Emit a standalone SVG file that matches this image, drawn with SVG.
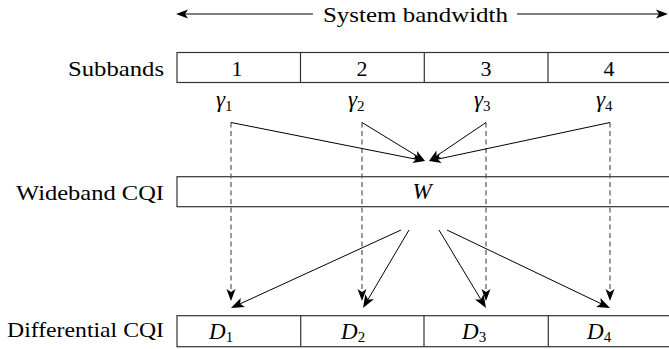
<svg xmlns="http://www.w3.org/2000/svg" width="669" height="349" viewBox="0 0 669 349">
<defs>
<style>
text{font-family:"Liberation Serif","DejaVu Serif",serif;fill:#000}
.t{font-size:22px}
.m{font-size:23px;font-style:italic}
.s{font-size:15px;font-style:normal}
.box{fill:#fff;stroke:#333;stroke-width:1.2}
.div{stroke:#333;stroke-width:1.2}
.dash{stroke:#555;stroke-width:1.2;stroke-dasharray:5 3.5;fill:none}
.sol{stroke:#000;stroke-width:1;fill:none}
.hd{fill:#000;stroke:none}
</style>
</defs>
<g id="bandwidth">
<text x="415.5" y="21.5" class="t" text-anchor="middle" textLength="185" lengthAdjust="spacingAndGlyphs">System bandwidth</text>
</g>
<g id="subbands">
<text x="164" y="76" class="t" text-anchor="end" textLength="96" lengthAdjust="spacingAndGlyphs">Subbands</text>
<rect x="177" y="52.5" width="494" height="30" class="box"/>
<line x1="300.5" y1="52.5" x2="300.5" y2="82.5" class="div"/>
<line x1="424.3" y1="52.5" x2="424.3" y2="82.5" class="div"/>
<line x1="548" y1="52.5" x2="548" y2="82.5" class="div"/>
<text x="237" y="76" class="t" text-anchor="middle">1</text>
<text x="362" y="76" class="t" text-anchor="middle">2</text>
<text x="486" y="76" class="t" text-anchor="middle">3</text>
<text x="609" y="76" class="t" text-anchor="middle">4</text>
</g>
<g id="gammas">
<text x="216" y="107" class="m">γ<tspan class="s" dy="4">1</tspan></text>
<text x="348" y="107" class="m">γ<tspan class="s" dy="4">2</tspan></text>
<text x="474" y="107" class="m">γ<tspan class="s" dy="4">3</tspan></text>
<text x="596" y="107" class="m">γ<tspan class="s" dy="4">4</tspan></text>
</g>
<g id="wideband">
<text x="164" y="199.5" class="t" text-anchor="end" textLength="148" lengthAdjust="spacingAndGlyphs">Wideband CQI</text>
<rect x="177" y="176.7" width="494" height="30" class="box"/>
<text x="422" y="199.3" class="m" text-anchor="middle">W</text>
</g>
<g id="differential">
<text x="164" y="337" class="t" text-anchor="end" textLength="157" lengthAdjust="spacingAndGlyphs">Differential CQI</text>
<rect x="177" y="315.7" width="494" height="31" class="box"/>
<line x1="300.7" y1="315.7" x2="300.7" y2="346.7" class="div"/>
<line x1="424" y1="315.7" x2="424" y2="346.7" class="div"/>
<line x1="548.3" y1="315.7" x2="548.3" y2="346.7" class="div"/>
<text x="209" y="339" class="m">D<tspan class="s" dy="3">1</tspan></text>
<text x="341" y="339" class="m">D<tspan class="s" dy="3">2</tspan></text>
<text x="462" y="339" class="m">D<tspan class="s" dy="3">3</tspan></text>
<text x="587" y="339" class="m">D<tspan class="s" dy="3">4</tspan></text>
</g>
<g id="connectors">
<line x1="313" y1="14" x2="185" y2="14" class="sol"/>
<polygon class="hd" points="176,14 188,9.5 185,14 188,18.5"/>
<line x1="517" y1="14" x2="659" y2="14" class="sol"/>
<polygon class="hd" points="668,14 656,9.5 659,14 656,18.5"/>
<line x1="231" y1="122.5" x2="231" y2="292" class="dash"/>
<polygon class="hd" points="231,301 226.5,289 231,292 235.5,289"/>
<line x1="362" y1="122.5" x2="362" y2="292" class="dash"/>
<polygon class="hd" points="362,301 357.5,289 362,292 366.5,289"/>
<line x1="486" y1="122.5" x2="486" y2="292" class="dash"/>
<polygon class="hd" points="486,301 481.5,289 486,292 490.5,289"/>
<line x1="610" y1="122.5" x2="610" y2="292" class="dash"/>
<polygon class="hd" points="610,301 605.5,289 610,292 614.5,289"/>
<line x1="231" y1="122.5" x2="416.17" y2="159.25" class="sol"/>
<polygon class="hd" points="425,161 412.35,163.08 416.17,159.25 414.11,154.25"/>
<line x1="362" y1="122.5" x2="417.32" y2="156.31" class="sol"/>
<polygon class="hd" points="425,161 412.41,158.58 417.32,156.31 417.11,150.90"/>
<line x1="486" y1="122.5" x2="436.46" y2="155.96" class="sol"/>
<polygon class="hd" points="429,161 436.42,150.55 436.46,155.96 441.46,158.01"/>
<line x1="610" y1="122.5" x2="437.80" y2="159.13" class="sol"/>
<polygon class="hd" points="429,161 439.80,154.10 437.80,159.13 441.67,162.90"/>
<line x1="401" y1="230" x2="240.09" y2="303.83" class="sol"/>
<polygon class="hd" points="231,308 240.73,298.04 240.09,303.83 244.90,307.12"/>
<line x1="409" y1="230" x2="368.08" y2="299.39" class="sol"/>
<polygon class="hd" points="363,308 365.30,294.26 368.08,299.39 373.91,299.34"/>
<line x1="439" y1="230" x2="480.84" y2="299.44" class="sol"/>
<polygon class="hd" points="486,308 475.01,299.45 480.84,299.44 483.57,294.28"/>
<line x1="447" y1="230" x2="601.0" y2="303.68" class="sol"/>
<polygon class="hd" points="610,308 596.11,306.90 601.0,303.68 600.43,297.88"/>
</g>
</svg>
